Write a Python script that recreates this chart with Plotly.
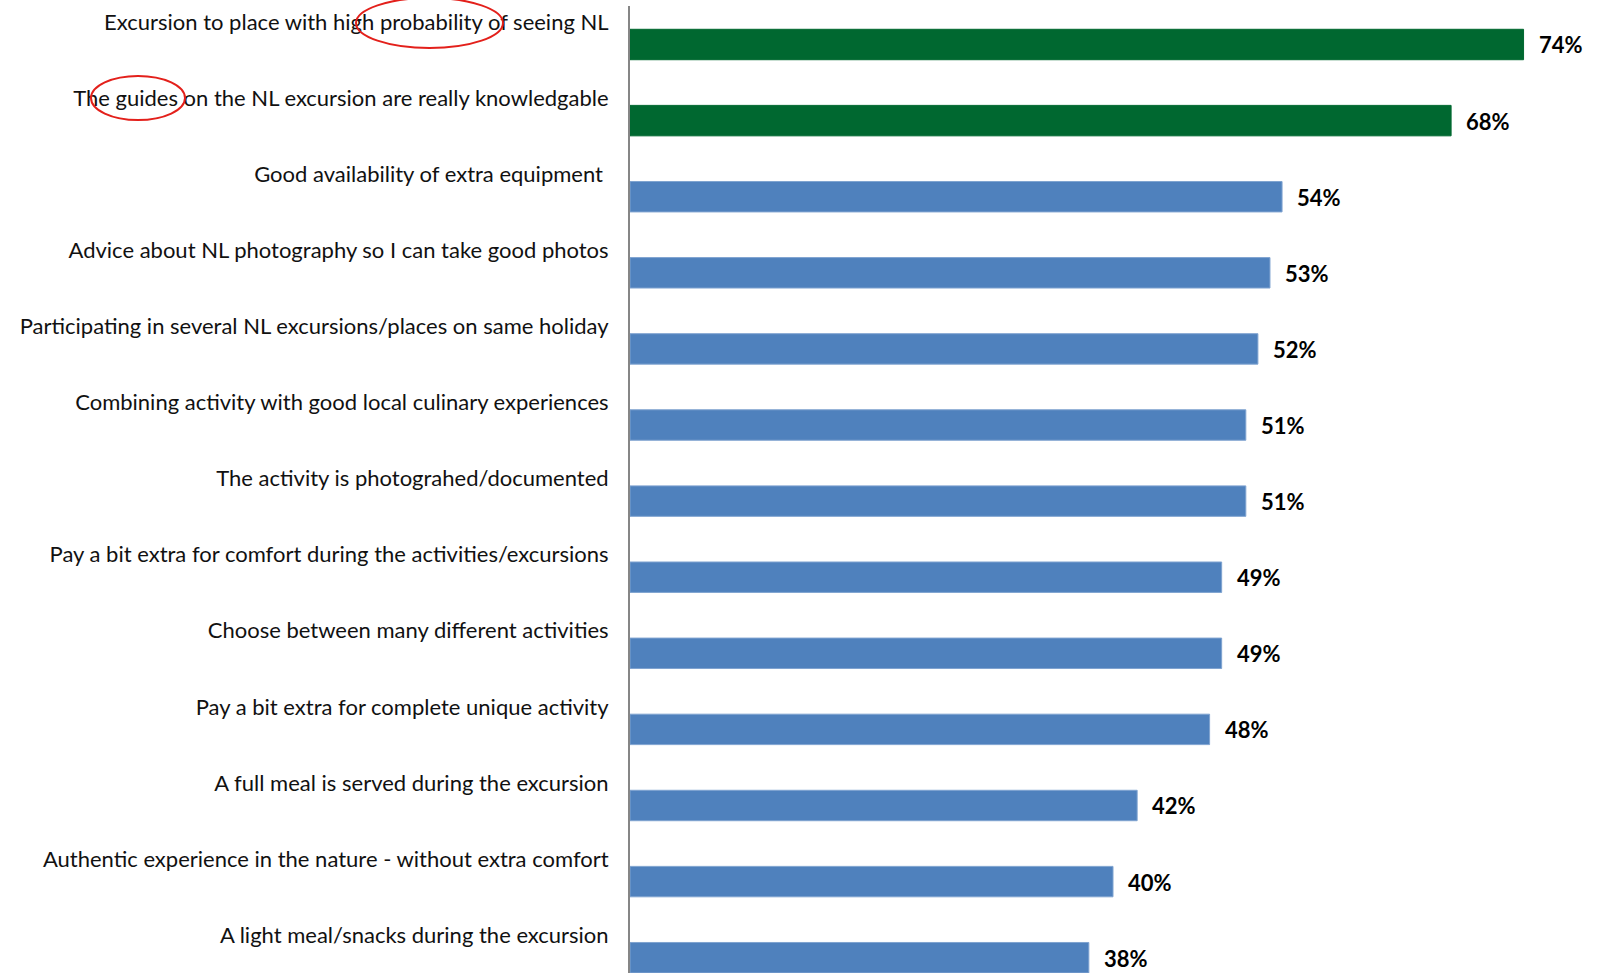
import plotly.graph_objects as go

categories = [
    "Excursion to place with high probability of seeing NL",
    "The guides on the NL excursion are really knowledgable",
    "Good availability of extra equipment ",
    "Advice about NL photography so I can take good photos",
    "Participating in several NL excursions/places on same holiday",
    "Combining activity with good local culinary experiences",
    "The activity is photograhed/documented",
    "Pay a bit extra for comfort during the activities/excursions",
    "Choose between many different activities",
    "Pay a bit extra for complete unique activity",
    "A full meal is served during the excursion",
    "Authentic experience in the nature - without extra comfort",
    "A light meal/snacks during the excursion",
]
values = [74, 68, 54, 53, 52, 51, 51, 49, 49, 48, 42, 40, 38]
n_highlight = 2

W, H = 1598, 973
ML, MR, MT, MB = 630, 2, 6, 0
GREEN = "#006830"
BLUE = "#4F81BD"

colors = [GREEN if i < n_highlight else BLUE for i in range(len(values))]
line_colors = [GREEN if i < n_highlight else "#7FA3D0" for i in range(len(values))]

fig = go.Figure()
fig.add_trace(go.Bar(
    y=categories, x=values, orientation="h",
    width=0.40, offset=0.096,
    marker=dict(color=colors, line=dict(color=line_colors, width=1)),
    hoverinfo="skip",
))

for c, v in zip(categories, values):
    fig.add_annotation(
        x=v, y=c, xref="x", yref="y", text=f"<b>{v}%</b>",
        showarrow=False, xanchor="left", yanchor="middle",
        xshift=13, yshift=-23,
        font=dict(family="Lato, Carlito, Arial", size=22, color="#000000"),
    )

pw = W - ML - MR
ph = H - MT - MB


def px_x(px):
    return (px - ML) / pw


def px_y(py):
    return (H - MB - py) / ph


ellipses = [(356, -2, 503, 48), (91, 76, 185, 120)]
for x0, y0, x1, y1 in ellipses:
    fig.add_shape(type="circle", xref="paper", yref="paper",
                  x0=px_x(x0), x1=px_x(x1), y0=px_y(y1), y1=px_y(y0),
                  line=dict(color="#E3201B", width=2), layer="above")

fig.update_layout(
    width=W, height=H,
    margin=dict(l=ML, r=MR, t=MT, b=MB, pad=0),
    paper_bgcolor="white", plot_bgcolor="white",
    showlegend=False,
    xaxis=dict(range=[0, 80], showgrid=False, zeroline=False, showline=False,
               showticklabels=False, ticks=""),
    yaxis=dict(type="category", categoryorder="array", categoryarray=categories,
               range=[12.497, -0.210], showgrid=False, zeroline=False,
               showline=True, linecolor="#868686", linewidth=2, ticks="",
               ticklabelstandoff=15,
               tickfont=dict(family="Lato, Carlito, Arial", size=22, color="#111111")),
)

fig.write_html("out.html")
